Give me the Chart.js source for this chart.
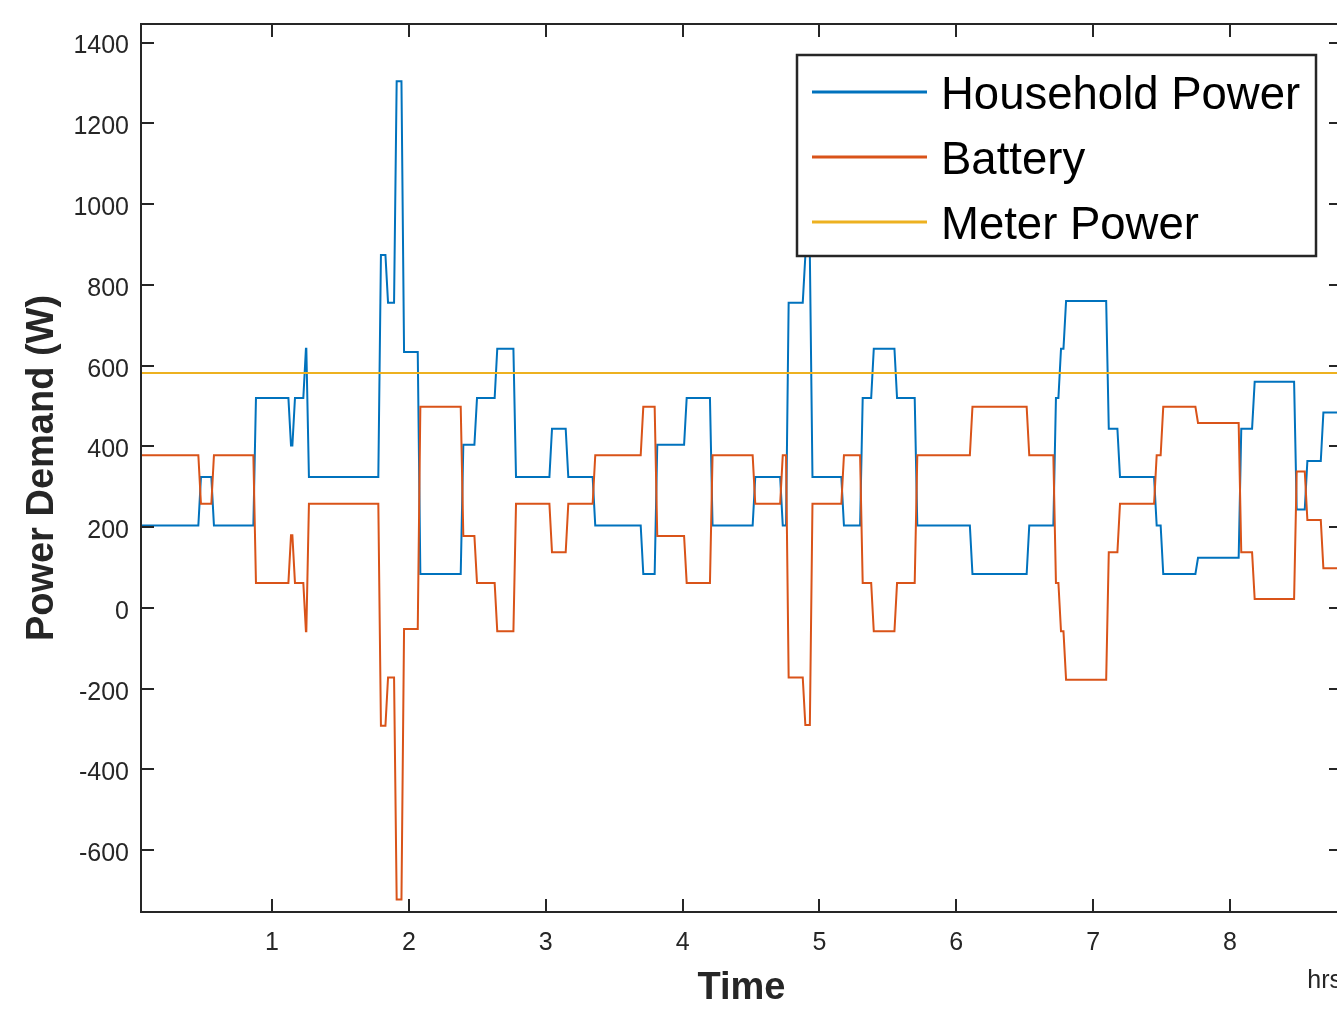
<!DOCTYPE html>
<html>
<head>
<meta charset="utf-8">
<title>Power Demand</title>
<script src="https://cdn.jsdelivr.net/npm/chart.js@4.4.1/dist/chart.umd.min.js"></script>
<style>
  html, body { margin: 0; padding: 0; background: #fff; overflow: hidden; }
  canvas { display: block; }
</style>
</head>
<body>
<canvas id="powerChart" width="1400" height="1011"></canvas>
<script>
// tick values
var xTicks = [1, 2, 3, 4, 5, 6, 7, 8];
var yTicks = [-600, -400, -200, 0, 200, 400, 600, 800, 1000, 1200, 1400];

// time (hrs) at which each new level is reached
var switchTimes = [0.043, 0.481, 0.576, 0.883, 1.139, 1.168, 1.248, 1.270, 1.796, 1.848,
  1.911, 1.965, 2.084, 2.398, 2.498, 2.646, 2.783, 3.046, 3.165, 3.362,
  3.713, 3.815, 4.030, 4.219, 4.531, 4.732, 4.775, 4.897, 4.949, 5.179,
  5.316, 5.397, 5.567, 5.715, 6.118, 6.533, 6.728, 6.765, 6.802, 7.114,
  7.196, 7.464, 7.512, 7.766, 8.082, 8.180, 8.487, 8.565, 8.682];
var endTime = 8.818;

var householdPower = [204, 324, 204, 520, 402, 520, 642, 324, 874, 756,
  1304, 634, 84, 404, 520, 642, 324, 444, 324, 204,
  84, 404, 520, 204, 324, 204, 756, 872, 324, 204,
  520, 642, 520, 204, 84, 204, 520, 642, 760, 444,
  324, 204, 84, 124, 444, 560, 244, 364, 484];

var batteryPower = [378, 258, 378, 62, 180, 62, -58, 258, -292, -172,
  -722, -52, 498, 178, 62, -58, 258, 138, 258, 378,
  498, 178, 62, 378, 258, 378, -172, -290, 258, 378,
  62, -58, 62, 378, 498, 378, 62, -58, -178, 138,
  258, 378, 498, 458, 138, 22, 338, 218, 98];

var meterTimes = [0.043, 8.818];
var meterPower = [582, 582];

var SAMPLE = 0.019; // one sample step between levels

function stepPoints(times, levels, end) {
  var pts = [];
  for (var i = 0; i < times.length; i++) {
    var stop = i + 1 < times.length ? times[i + 1] - SAMPLE : end;
    pts.push({x: times[i], y: levels[i]});
    pts.push({x: stop, y: levels[i]});
  }
  return pts;
}

function linePoints(times, levels) {
  return times.map(function (t, i) { return {x: t, y: levels[i]}; });
}

var FONT = '"Liberation Sans", Arial, Helvetica, sans-serif';
var INK = '#262626';
Chart.defaults.font.family = FONT;

var boxAndLegend = {
  id: 'boxAndLegend',
  afterDraw: function (chart) {
    var ctx = chart.ctx, a = chart.chartArea;
    var xs = chart.scales.x, ys = chart.scales.y;
    ctx.save();
    // axes box with inward ticks
    ctx.strokeStyle = INK;
    ctx.lineWidth = 2;
    ctx.strokeRect(a.left, a.top, a.right - a.left, a.bottom - a.top);
    ctx.beginPath();
    xs.ticks.forEach(function (t) {
      var px = Math.round(xs.getPixelForValue(t.value));
      ctx.moveTo(px, a.bottom); ctx.lineTo(px, a.bottom - 13);
      ctx.moveTo(px, a.top); ctx.lineTo(px, a.top + 13);
    });
    ys.ticks.forEach(function (t) {
      var py = Math.round(ys.getPixelForValue(t.value));
      ctx.moveTo(a.left, py); ctx.lineTo(a.left + 13, py);
      ctx.moveTo(a.right, py); ctx.lineTo(a.right - 13, py);
    });
    ctx.stroke();

    // unit label
    ctx.fillStyle = INK;
    ctx.font = '25px ' + FONT;
    ctx.textAlign = 'right';
    ctx.textBaseline = 'alphabetic';
    ctx.fillText('hrs', a.right, a.bottom + 76);

    // legend
    var lx = a.right - 545, ly = a.top + 31, lw = 519, lh = 201;
    ctx.fillStyle = '#fff';
    ctx.fillRect(lx, ly, lw, lh);
    ctx.lineWidth = 2.5;
    ctx.strokeStyle = INK;
    ctx.strokeRect(lx, ly, lw, lh);
    ctx.font = '45.5px ' + FONT;
    ctx.textAlign = 'left';
    ctx.textBaseline = 'middle';
    chart.data.datasets.forEach(function (ds, i) {
      var ry = ly + 37 + i * 65;
      ctx.strokeStyle = ds.borderColor;
      ctx.lineWidth = 3;
      ctx.beginPath();
      ctx.moveTo(lx + 15, ry); ctx.lineTo(lx + 130, ry);
      ctx.stroke();
      ctx.fillStyle = '#000';
      ctx.fillText(ds.label, lx + 144, ry + 4);
    });
    ctx.restore();
  }
};

var ctx = document.getElementById('powerChart').getContext('2d');
var powerChart = new Chart(ctx, {
  type: 'line',
  data: {
    datasets: [{
      label: 'Household Power',
      data: stepPoints(switchTimes, householdPower, endTime),
      borderColor: '#0072BD',
      order: 3
    }, {
      label: 'Battery',
      data: stepPoints(switchTimes, batteryPower, endTime),
      borderColor: '#D95319',
      order: 2
    }, {
      label: 'Meter Power',
      data: linePoints(meterTimes, meterPower),
      borderColor: '#EDB120',
      order: 1
    }]
  },
  options: {
    responsive: false,
    animation: false,
    devicePixelRatio: 1,
    elements: {
      line: { borderWidth: 2, tension: 0, fill: false },
      point: { radius: 0 }
    },
    layout: { padding: { top: 24, right: 58, left: 0, bottom: 0 } },
    plugins: { legend: { display: false }, tooltip: { enabled: false } },
    scales: {
      x: {
        type: 'linear',
        min: 0.043,
        max: endTime,
        afterBuildTicks: function (s) { s.ticks = xTicks.map(function (v) { return {value: v}; }); },
        afterFit: function (s) { s.height = 99; s.paddingLeft = 0; s.paddingRight = 0; },
        grid: { display: false, drawTicks: false },
        border: { display: false },
        ticks: { color: INK, font: { size: 25 }, padding: 16, maxRotation: 0, autoSkip: false,
          callback: function (v) { return String(v); } },
        title: { display: true, text: 'Time', color: INK, font: { size: 38, weight: 'bold' }, padding: { top: 0, bottom: 0 } }
      },
      y: {
        min: -753,
        max: 1446,
        afterBuildTicks: function (s) { s.ticks = yTicks.map(function (v) { return {value: v}; }); },
        afterFit: function (s) { s.width = 141; s.paddingTop = 0; s.paddingBottom = 0; },
        grid: { display: false, drawTicks: false },
        border: { display: false },
        ticks: { color: INK, font: { size: 25 }, padding: 12, labelOffset: 4, autoSkip: false,
          callback: function (v) { return String(v); } },
        title: { display: true, text: 'Power Demand (W)', color: INK, font: { size: 38, weight: 'bold' }, padding: { top: 20, bottom: 0 } }
      }
    }
  },
  plugins: [boxAndLegend]
});
</script>
</body>
</html>
